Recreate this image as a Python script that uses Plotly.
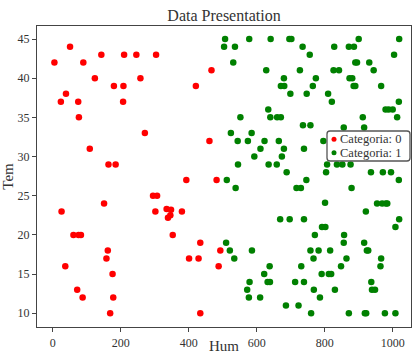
import plotly.graph_objects as go

# ---- data ----
hum_cat0 = [5, 51, 24, 39, 75, 77, 90, 124, 143, 109, 164, 185, 180, 208, 207, 210, 246, 258, 271, 304,
            421, 467, 461, 393, 482,
            26, 151, 61, 76, 83, 37, 72, 88, 162, 158, 176, 178, 169, 295, 307, 302, 335, 348, 339, 346,
            380, 353, 434, 401, 429, 493, 488, 434]
tem_cat0 = [42, 44, 37, 38, 37, 35, 42, 40, 43, 31, 29, 29, 39, 39, 37, 43, 43, 40, 33, 43,
            39, 41, 32, 27, 27,
            23, 24, 20, 20, 20, 16, 13, 12, 18, 17, 15, 12, 10, 25, 25, 23, 23.3, 23.2, 22.2, 22.5,
            23, 20, 19, 17, 17, 18, 16, 10]

hum_cat1 = [507, 578, 641, 696, 702, 900, 1019,
            504, 536, 735, 828, 871, 886,
            756, 1004,
            531, 890, 895, 931,
            628, 727, 826, 842, 944,
            680, 774, 873, 881,
            671, 681, 765, 885, 890, 966,
            699, 747, 810,
            821, 1018,
            634, 979, 988, 1000,
            552, 640, 660, 671, 912, 1013,
            736, 758, 856, 916,
            524, 585,
            544, 574, 623, 665, 796,
            611, 680, 739,
            593, 674,
            545, 635, 659, 807, 836, 852, 876,
            688, 804, 936, 971, 995,
            512, 746, 1018,
            538, 717, 730, 879,
            801, 954, 969, 980, 984,
            921,
            669, 697, 739, 1019,
            792, 802, 1008,
            771, 857,
            510, 856, 916,
            521, 586, 758, 782, 816, 924, 928,
            534, 767, 864, 966,
            638, 731, 848, 964,
            622, 791, 812, 819,
            579, 632, 639, 713, 739, 937,
            572, 768, 830, 939, 948,
            577, 610, 786,
            686, 723,
            760, 871, 918, 922, 977, 1008]
tem_cat1 = [45, 45, 45, 45, 45, 45, 45,
            44, 44, 44, 44, 44, 44,
            43, 43,
            42, 42, 42, 42,
            41, 41, 41, 41, 41,
            40, 40, 40, 40,
            39, 39, 39, 39, 39, 39,
            38, 38, 38,
            37, 37,
            36, 36, 36, 36,
            35, 35, 35, 35, 35, 35,
            34, 34, 33.7, 33.7,
            33, 33,
            32, 32, 32, 32, 32,
            31, 31, 31,
            30, 30,
            29, 29, 29, 29, 29, 29, 29,
            28, 28, 28, 28, 28,
            27, 27, 27,
            26, 26, 26, 26,
            24.1, 24, 24, 24, 24,
            23,
            22, 22, 22, 22,
            21, 21, 21,
            20, 20,
            19, 19, 19,
            18, 18, 18, 18, 18, 18, 18,
            17, 17, 17, 17,
            16, 16, 16, 16,
            15, 15, 15, 15,
            14, 14, 14, 14, 14, 14,
            13, 13, 13, 13, 13,
            12, 12, 12,
            11, 11,
            10, 10, 10, 10, 10, 10]

series_names = ["Categoria: 0", "Categoria: 1"]
series_colors = ["#ff0000", "#008000"]
x_ticks = [0, 200, 400, 600, 800, 1000]
y_ticks = [10, 15, 20, 25, 30, 35, 40, 45]

# ---- layout geometry (pixels) ----
W, H = 414, 354
ML, MR, MT, MB = 37, 3, 26, 27
PW, PH = W - ML - MR, H - MT - MB
FONT = "Liberation Serif"
TXT = "#333333"
AX = "#444444"


def px2paper(x, y):
    return (x - ML) / PW, (H - MB - y) / PH


fig = go.Figure()
for hx, ty, nm, col in [(hum_cat0, tem_cat0, series_names[0], series_colors[0]),
                        (hum_cat1, tem_cat1, series_names[1], series_colors[1])]:
    fig.add_trace(go.Scatter(x=hx, y=ty, mode="markers", name=nm,
                             marker=dict(color=col, size=6.5, line=dict(width=0)),
                             showlegend=False))

# custom legend (rounded box)
bx0, by0, bx1, by1, r = 327, 131, 410, 161, 3


def P(x, y):
    a, b = px2paper(x, y)
    return f"{a:.5f},{b:.5f}"


path = (f"M {P(bx0 + r, by0)} L {P(bx1 - r, by0)} Q {P(bx1, by0)} {P(bx1, by0 + r)} "
        f"L {P(bx1, by1 - r)} Q {P(bx1, by1)} {P(bx1 - r, by1)} "
        f"L {P(bx0 + r, by1)} Q {P(bx0, by1)} {P(bx0, by1 - r)} "
        f"L {P(bx0, by0 + r)} Q {P(bx0, by0)} {P(bx0 + r, by0)} Z")
shapes = [dict(type="path", xref="paper", yref="paper", path=path,
               line=dict(color="#555555", width=1.3), fillcolor="white", layer="above")]
annotations = []
for i, (nm, col) in enumerate(zip(series_names, series_colors)):
    cy = 139.2 + 13.6 * i
    cx = 334
    x0, y0 = px2paper(cx - 2.5, cy - 2.5)
    x1, y1 = px2paper(cx + 2.5, cy + 2.5)
    shapes.append(dict(type="circle", xref="paper", yref="paper", x0=x0, x1=x1, y0=y1, y1=y0,
                       fillcolor=col, line=dict(width=0), layer="above"))
    tx, ty = px2paper(339, cy)
    annotations.append(dict(text=nm, xref="paper", yref="paper", x=tx, y=ty,
                            xanchor="left", yanchor="middle", showarrow=False, borderpad=0,
                            font=dict(family=FONT, size=12.5, color=TXT)))

axis_common = dict(showgrid=False, zeroline=False, showline=True, linecolor=AX, linewidth=1.3,
                   mirror=True, ticks="outside", ticklen=4, tickwidth=1, tickcolor=AX,
                   tickfont=dict(family=FONT, size=12, color=TXT))

fig.update_layout(
    width=W, height=H,
    margin=dict(l=ML, r=MR, t=MT, b=MB, pad=0),
    paper_bgcolor="white", plot_bgcolor="white",
    font=dict(family=FONT, color=TXT),
    title=dict(text="Data Presentation", x=(ML + PW / 2) / W, xanchor="center",
               y=1 - 15.5 / H, yanchor="middle", font=dict(family=FONT, size=16, color=TXT)),
    xaxis=dict(range=[-46.2, 1053.8], tickvals=x_ticks, ticktext=[str(v) for v in x_ticks],
               title=dict(text="Hum", standoff=0, font=dict(family=FONT, size=15, color=TXT)),
               automargin=False, **axis_common),
    yaxis=dict(range=[8.25, 46.66], tickvals=y_ticks, ticktext=[str(v) for v in y_ticks],
               title=dict(text="Tem", standoff=2, font=dict(family=FONT, size=15, color=TXT)),
               automargin=False, **axis_common),
    shapes=shapes, annotations=annotations,
)

fig.write_html("out.html", config={"displayModeBar": False},
               post_script="document.body.style.margin='0';document.body.style.padding='0';"
                           "document.body.style.overflow='hidden';")
